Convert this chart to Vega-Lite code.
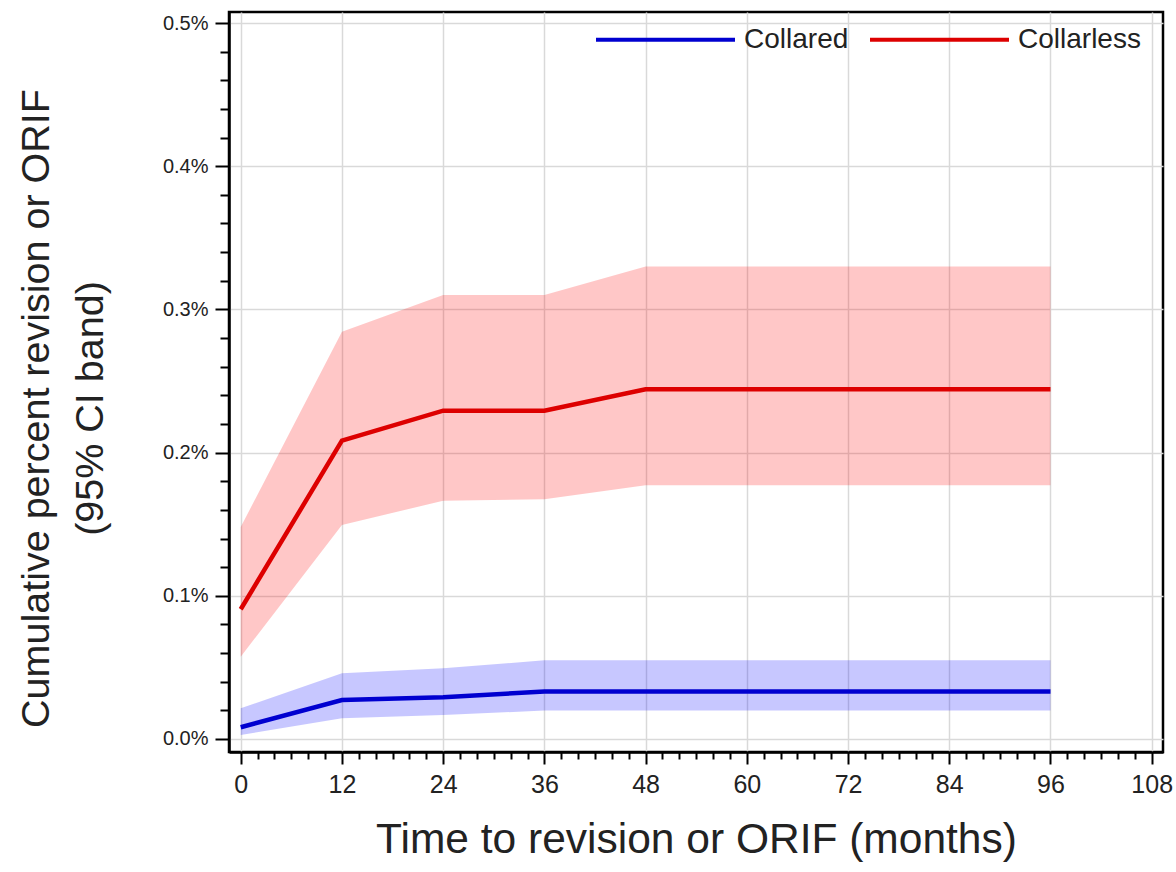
{
  "$schema": "https://vega.github.io/schema/vega-lite/v6.json",
  "width": 934,
  "height": 740,
  "autosize": {"type": "none"},
  "padding": {"left": 229, "top": 12, "right": 13, "bottom": 120},
  "background": "#ffffff",
  "config": {
    "view": {"stroke": "#000000", "strokeWidth": 2.5},
    "font": "Liberation Sans"
  },
  "data": {
    "values": [
      {"group": "Collared", "month": 0, "est": 0.0082, "lo": 0.0028, "hi": 0.0214},
      {"group": "Collared", "month": 12, "est": 0.0272, "lo": 0.0145, "hi": 0.0459},
      {"group": "Collared", "month": 24, "est": 0.0291, "lo": 0.0168, "hi": 0.0494},
      {"group": "Collared", "month": 36, "est": 0.0332, "lo": 0.0198, "hi": 0.0549},
      {"group": "Collared", "month": 48, "est": 0.0332, "lo": 0.0198, "hi": 0.0549},
      {"group": "Collared", "month": 60, "est": 0.0332, "lo": 0.0198, "hi": 0.0549},
      {"group": "Collared", "month": 72, "est": 0.0332, "lo": 0.0198, "hi": 0.0549},
      {"group": "Collared", "month": 84, "est": 0.0332, "lo": 0.0198, "hi": 0.0549},
      {"group": "Collared", "month": 96, "est": 0.0332, "lo": 0.0198, "hi": 0.0549},
      {"group": "Collarless", "month": 0, "est": 0.0906, "lo": 0.0575, "hi": 0.148},
      {"group": "Collarless", "month": 12, "est": 0.2083, "lo": 0.1494, "hi": 0.2844},
      {"group": "Collarless", "month": 24, "est": 0.2293, "lo": 0.1664, "hi": 0.31},
      {"group": "Collarless", "month": 36, "est": 0.2293, "lo": 0.1674, "hi": 0.31},
      {"group": "Collarless", "month": 48, "est": 0.2442, "lo": 0.1772, "hi": 0.33},
      {"group": "Collarless", "month": 60, "est": 0.2442, "lo": 0.1772, "hi": 0.33},
      {"group": "Collarless", "month": 72, "est": 0.2442, "lo": 0.1772, "hi": 0.33},
      {"group": "Collarless", "month": 84, "est": 0.2442, "lo": 0.1772, "hi": 0.33},
      {"group": "Collarless", "month": 96, "est": 0.2442, "lo": 0.1772, "hi": 0.33}
    ]
  },
  "layer": [
    {
      "mark": {"type": "area", "opacity": 0.22, "interpolate": "linear"},
      "encoding": {
        "x": {
          "field": "month", "type": "quantitative",
          "scale": {"domain": [-1.39, 109.34], "nice": false, "zero": false},
          "axis": {
            "orient": "bottom",
            "values": [0, 12, 24, 36, 48, 60, 72, 84, 96, 108],
            "grid": true, "gridColor": "#d9d9d9", "gridWidth": 1.5,
            "domain": true, "domainColor": "#000000", "domainWidth": 2.5,
            "ticks": true, "tickSize": 12, "tickWidth": 2, "tickColor": "#000000",
            "labelFont": "Liberation Sans", "labelFontSize": 25, "labelColor": "#222222",
            "labelPadding": 8, "labelFlush": false, "labelOverlap": false,
            "title": "Time to revision or ORIF (months)",
            "titleFont": "Liberation Sans", "titleFontSize": 42.5, "titleFontWeight": "normal",
            "titleColor": "#222222", "titleBaseline": "alphabetic", "titleY": 100
          }
        },
        "y": {
          "field": "lo", "type": "quantitative",
          "scale": {"domain": [-0.0091, 0.5077], "nice": false, "zero": false},
          "axis": {
            "orient": "left",
            "values": [0, 0.1, 0.2, 0.3, 0.4, 0.5],
            "labelExpr": "format(datum.value, '.1f') + '%'",
            "grid": true, "gridColor": "#d9d9d9", "gridWidth": 1.5,
            "domain": true, "domainColor": "#000000", "domainWidth": 2.5,
            "ticks": true, "tickSize": 14, "tickWidth": 2, "tickColor": "#000000",
            "labelFont": "Liberation Sans", "labelFontSize": 20, "labelColor": "#222222",
            "labelPadding": 7, "labelFlush": false, "labelOverlap": false,
            "title": ["Cumulative percent revision or ORIF", "(95% CI band)"],
            "titleFont": "Liberation Sans", "titleFontSize": 39.5, "titleFontWeight": "normal",
            "titleColor": "#222222", "titleLineHeight": 54, "titleAngle": -90,
            "titleBaseline": "alphabetic", "titleAlign": "center",
            "titleX": -181, "titleY": 396
          }
        },
        "y2": {"field": "hi"},
        "color": {
          "field": "group", "type": "nominal",
          "scale": {"domain": ["Collared", "Collarless"], "range": ["#0000ff", "#ff0000"]},
          "legend": null
        }
      }
    },
    {
      "mark": {"type": "line", "strokeWidth": 4.5, "interpolate": "linear"},
      "encoding": {
        "x": {
          "field": "month", "type": "quantitative",
          "axis": {
            "orient": "bottom",
            "values": [2, 4, 6, 8, 10, 14, 16, 18, 20, 22, 26, 28, 30, 32, 34, 38, 40, 42, 44, 46, 50, 52, 54, 56, 58, 62, 64, 66, 68, 70, 74, 76, 78, 80, 82, 86, 88, 90, 92, 94, 98, 100, 102, 104, 106],
            "grid": false, "domain": false, "labels": false, "title": null,
            "ticks": true, "tickSize": 7, "tickWidth": 2, "tickColor": "#000000"
          }
        },
        "y": {
          "field": "est", "type": "quantitative",
          "axis": {
            "orient": "left",
            "values": [0.02, 0.04, 0.06, 0.08, 0.12, 0.14, 0.16, 0.18, 0.22, 0.24, 0.26, 0.28, 0.32, 0.34, 0.36, 0.38, 0.42, 0.44, 0.46, 0.48],
            "grid": false, "domain": false, "labels": false, "title": null,
            "ticks": true, "tickSize": 9, "tickWidth": 2, "tickColor": "#000000"
          }
        },
        "color": {
          "field": "group", "type": "nominal",
          "scale": {"domain": ["Collared", "Collarless"], "range": ["#0000d0", "#dd0000"]},
          "legend": {
            "orient": "none", "legendX": 365, "legendY": -44,
            "direction": "horizontal", "title": null,
            "symbolType": "M-1,0H1", "symbolSize": 19321, "symbolStrokeWidth": 4,
            "labelFont": "Liberation Sans", "labelFontSize": 28, "labelColor": "#222222",
            "labelOffset": 7, "columnPadding": 13, "padding": 0
          }
        }
      }
    }
  ],
  "resolve": {
    "scale": {"color": "independent"},
    "axis": {"x": "independent", "y": "independent"}
  }
}
